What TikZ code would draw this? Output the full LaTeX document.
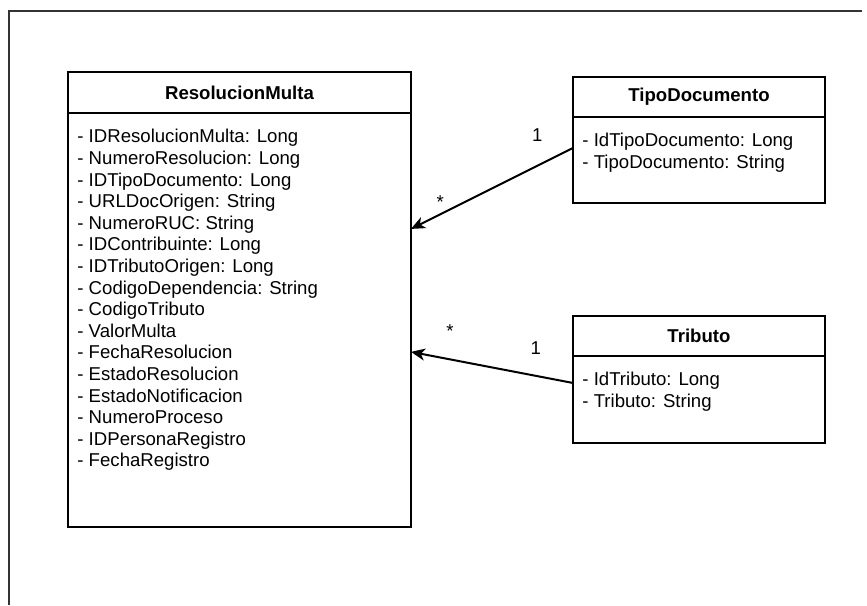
\documentclass[tikz,border=0pt]{standalone}
\usepackage{fontspec}
\setmainfont{Liberation Sans}
\usetikzlibrary{arrows.meta, positioning, calc}

\begin{document}
\begin{tikzpicture}[
    x=0.5pt, y=-0.5pt,
    every node/.style={font=\fontsize{9.3pt}{10.8pt}\selectfont},
    classhead/.style={draw, line width=1pt, outer sep=0pt, minimum width=#1, minimum height=20pt, font=\fontsize{9.3pt}{10.8pt}\selectfont\bfseries},
    classbody/.style={draw, line width=1pt, outer sep=0pt, minimum width=#1},
    attrs/.style={anchor=north west, inner sep=0pt, align=left, xshift=4.5pt, yshift=-8pt},
    mult/.style={inner sep=0pt},
    assoc/.style={-{Stealth[length=7pt, width=6pt, inset=2pt]}, line width=1pt},
    frame/.style={line width=0.8pt, draw=black!80},
]
    \useasboundingbox (0,0) rectangle (867,605);

    % page frame
    \draw[frame] (9,605) |- (862,11);

    % main class
    \node[classhead=171.5pt, minimum height=20.5pt, anchor=north west] (restitle) at (68,72) {ResolucionMulta};
    \node[classbody=171.5pt, minimum height=207pt, below=0pt of restitle] (resbody) {};
    \node[attrs] (resattr) at (resbody.north west) {- IDResolucionMulta: Long\\- NumeroResolucion: Long\\- IDTipoDocumento: Long\\- URLDocOrigen: String\\- NumeroRUC: String\\- IDContribuinte: Long\\- IDTributoOrigen: Long\\- CodigoDependencia: String\\- CodigoTributo\\- ValorMulta\\- FechaResolucion\\- EstadoResolucion\\- EstadoNotificacion\\- NumeroProceso\\- IDPersonaRegistro\\- FechaRegistro};

    % lookup classes
    \node[classhead=126pt, anchor=north west] (tipotitle) at (573,77) {TipoDocumento};
    \node[classbody=126pt, minimum height=43pt, below=0pt of tipotitle] (tipobody) {};
    \node[attrs] (tipoattr) at (tipobody.north west) {- IdTipoDocumento: Long\\- TipoDocumento: String};

    \node[classhead=126pt, below=56.5pt of tipobody] (tribtitle) {Tributo};
    \node[classbody=126pt, minimum height=43.5pt, below=0pt of tribtitle] (tribbody) {};
    \node[attrs] (tribattr) at (tribbody.north west) {- IdTributo: Long\\- Tributo: String};

    % associations
    \draw[assoc] ($(tipobody.north west)!0.36!(tipobody.south west)$) -- ($(resbody.north east)!0.28!(resbody.south east)$)
        node[mult, pos=0.22, yshift=15.5pt] (tipoone) {1}
        node[mult, pos=0.82, yshift=6pt] (tipomany) {*};
    \draw[assoc] ($(tribbody.north west)!0.31!(tribbody.south west)$) -- ($(resbody.north east)!0.577!(resbody.south east)$)
        node[mult, pos=0.23, yshift=14pt] (tribone) {1}
        node[mult, pos=0.76, yshift=14pt] (tribmany) {*};
\end{tikzpicture}
\end{document}
